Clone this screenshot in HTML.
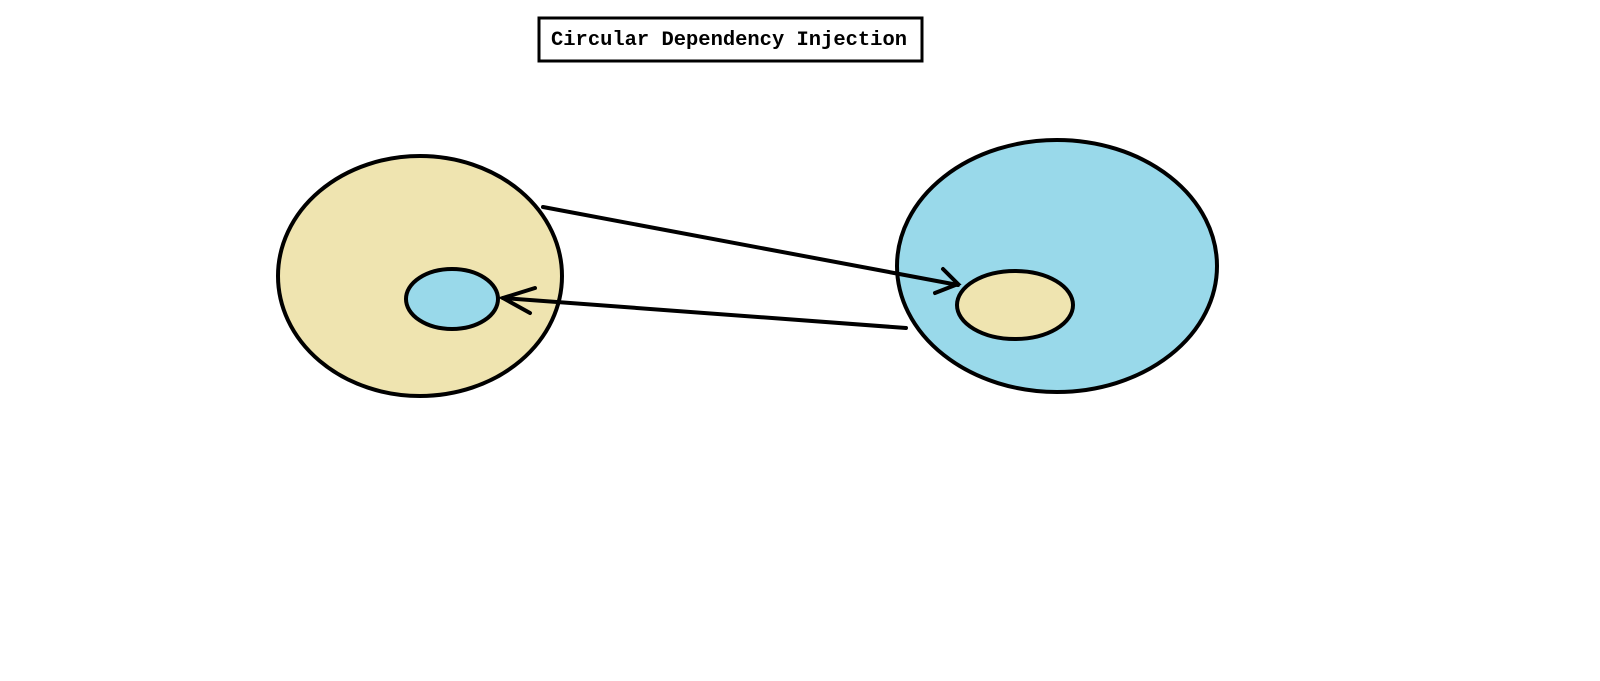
<!DOCTYPE html>
<html><head><meta charset="utf-8"><style>
html,body{margin:0;padding:0;background:#fff;width:1600px;height:681px;overflow:hidden}
</style></head><body>
<svg width="1600" height="681" viewBox="0 0 1600 681">
<rect x="539" y="18" width="383" height="43" fill="#fff" stroke="#000" stroke-width="3"/>
<text x="551" y="45" textLength="356" lengthAdjust="spacingAndGlyphs" font-family="Liberation Mono, monospace" font-weight="bold" font-size="20" fill="#000">Circular Dependency Injection</text>
<ellipse cx="420" cy="276" rx="142" ry="120" fill="#efe4b0" stroke="#000" stroke-width="4"/>
<ellipse cx="452" cy="299" rx="46" ry="30" fill="#99d9ea" stroke="#000" stroke-width="4"/>
<ellipse cx="1057" cy="266" rx="160" ry="126" fill="#99d9ea" stroke="#000" stroke-width="4"/>
<ellipse cx="1015" cy="305" rx="58" ry="34" fill="#efe4b0" stroke="#000" stroke-width="4"/>
<g stroke="#000" stroke-width="4" stroke-linecap="round" fill="none">
<line x1="543" y1="207" x2="958" y2="285"/>
<polyline points="943,269 958,284 935,293"/>
</g>
<g stroke="#000" stroke-width="4" stroke-linecap="round" fill="none">
<line x1="906" y1="328" x2="503" y2="298"/>
<polyline points="535,288 503,298 530,313"/>
</g>
</svg>
</body></html>
